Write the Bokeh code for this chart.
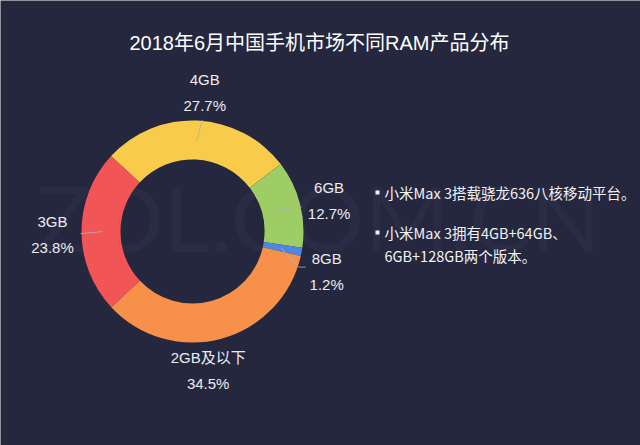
import math
import re
from bokeh.plotting import figure
from bokeh.models import Range1d
from bokeh.core.properties import value
from bokeh.embed import file_html
from bokeh.resources import INLINE

# ---- data ----
categories = ["4GB", "6GB", "8GB", "2GB及以下", "3GB"]
shares = [27.7, 12.7, 1.2, 34.5, 23.8]
pct_labels = ["27.7%", "12.7%", "1.2%", "34.5%", "23.8%"]
colors = ["#f9cb4a", "#9dcd64", "#4f86df", "#f7914a", "#f15555"]
title_text = "2018年6月中国手机市场不同RAM产品分布"
notes = ["小米Max 3搭载骁龙636八核移动平台。", "小米Max 3拥有4GB+64GB、", "6GB+128GB两个版本。"]

# ---- layout (pixel-space, y measured downward from page top) ----
W, H = 640, 445
BG = "#25273e"
CX, CY = 192, 231
R_OUT, R_IN = 111, 72
START_CW = -47.2          # clockwise degrees from 12 o'clock where first slice starts
label_nudge = [2.3, 1.8, 6.0, 8.7, -1.0]
R_LINE0, R_LINE1, R_LABEL = 90, 112, 140
LABEL_FONT = "Liberation Sans, Noto Sans CJK SC"

def Y(py):
    return H - py

p = figure(width=W, height=H, output_backend="svg", toolbar_location=None,
           x_range=Range1d(0, W), y_range=Range1d(0, H),
           background_fill_color=BG, border_fill_color=BG, min_border=0)
p.axis.visible = False
p.grid.visible = False
p.outline_line_color = None

# watermark
p.text(x=[318], y=[Y(216)], text=["ZOL.COM.CN"], text_font=value("Lato"), text_font_size="92px",
       text_color="#2e3149", text_alpha=0.5, text_align="center", text_baseline="middle")

# donut
total = sum(shares)
cum = START_CW
starts, ends, mids = [], [], []
for s in shares:
    a0 = cum
    a1 = cum + s / total * 360.0
    cum = a1
    mids.append((a0 + a1) / 2)
    starts.append(math.radians(90 - a1))
    ends.append(math.radians(90 - a0))

p.annular_wedge(x=[CX] * len(shares), y=[Y(CY)] * len(shares), inner_radius=R_IN, outer_radius=R_OUT,
                start_angle=starts, end_angle=ends, fill_color=colors, line_color=None)

def pt(angle_cw, r):
    a = math.radians(angle_cw)
    return CX + r * math.sin(a), CY - r * math.cos(a)

for i, cat in enumerate(categories):
    la = mids[i] + label_nudge[i]
    x0, y0 = pt(mids[i], R_LINE0)
    x1, y1 = pt(la, R_LINE1)
    lx, ly = pt(la, R_LABEL)
    if cat == "2GB及以下":
        pass
    elif cat == "8GB":
        x1, y1 = pt(la + 2, R_LINE1)
        p.line(x=[x0, x1, x1 + 7], y=[Y(y0), Y(y1), Y(y1)], line_color="#b0b0b8", line_alpha=0.8, line_width=1)
    else:
        p.line(x=[x0, x1], y=[Y(y0), Y(y1)], line_color="#b0b0b8", line_alpha=0.8, line_width=1)
    p.text(x=[lx], y=[Y(ly - 13)], text=[cat], text_font=value(LABEL_FONT), text_font_size="15px",
           text_color="#ececf0", text_align="center", text_baseline="middle")
    p.text(x=[lx], y=[Y(ly + 13)], text=[pct_labels[i]], text_font=value(LABEL_FONT),
           text_font_size="15px", text_color="#ececf0", text_align="center", text_baseline="middle")

# title
p.text(x=[319], y=[Y(42)], text=[title_text], text_font=value(LABEL_FONT), text_font_size="20px",
       text_color="#ffffff", text_align="center", text_baseline="middle")

# notes on the right
note_y = [192, 232, 255]
for j, t in enumerate(notes):
    p.text(x=[384], y=[Y(note_y[j])], text=[t], text_font=value("Noto Sans CJK SC"), text_font_size="14.5px",
           text_color="#f2f2f4", text_align="left", text_baseline="middle")
p.rect(x=[377, 377], y=[Y(note_y[0]), Y(note_y[1])], width=4, height=4, fill_color="#f2f2f4", line_color=None)

html = file_html(p, INLINE)
html = re.sub(r"<body[^>]*>", '<body style="margin:0;background:%s;overflow:hidden;">' % BG, html, count=1)
open("out.html", "w").write(html)
